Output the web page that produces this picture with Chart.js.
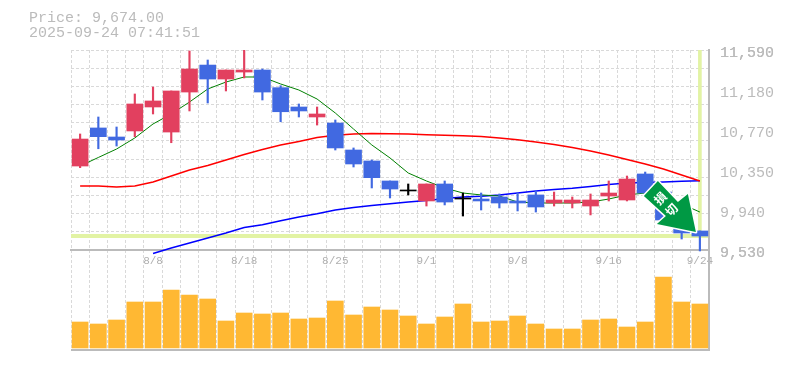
<!DOCTYPE html>
<html>
<head>
<meta charset="utf-8">
<script src="https://cdn.jsdelivr.net/npm/chart.js@4"></script>
<style>
html, body { margin: 0; background: #fff; }
#wrap { position: relative; width: 785px; height: 370px; }
#info { position: absolute; left: 29px; top: 11px; font: 15px/15px "Liberation Mono", monospace; color: #bbb; white-space: pre; }
</style>
</head>
<body>
<div id="wrap">
    <div id="info">Price: 9,674.00
2025-09-24 07:41:51</div>
    <canvas id="stockChart" width="785" height="370"></canvas>
</div>
<script>
const categories = ['8/4','8/5','8/6','8/7','8/8','8/12','8/13','8/14','8/15','8/18','8/19','8/20','8/21','8/22','8/25','8/26','8/27','8/28','8/29','9/1','9/2','9/3','9/4','9/5','9/8','9/9','9/10','9/11','9/12','9/16','9/17','9/18','9/19','9/22','9/24'];
const dateTicks = ['8/8','8/18','8/25','9/1','9/8','9/16','9/24'];

const openPrices = [10395,10787,10694,10756,11003,10745,11157,11435,11291,11363,11384,11202,11003,10900,10838,10560,10447,10241,10138,10035,10210,10055,10055,10076,10035,10097,10014,10014,9983,10086,10045,10313,10127,9818,9726];
const closePrices = [10673,10697,10663,11034,11065,11168,11394,11291,11384,11384,11157,10954,10962,10931,10581,10416,10275,10158,10138,10210,10024,10055,10035,10014,10014,9973,10045,10045,10045,10117,10261,10117,9839,9705,9674];
const highPrices = [10725,10900,10797,11137,11209,11168,11580,11487,11384,11590,11394,11222,11034,11003,10869,10581,10457,10241,10210,10210,10241,10117,10117,10107,10117,10138,10127,10076,10107,10241,10292,10333,10127,9818,9726];
const lowPrices = [10378,10573,10601,10697,10931,10635,10962,11044,11168,11302,11075,10851,10900,10817,10560,10385,10169,10066,10097,9983,9994,9880,9942,9963,9932,9921,9983,9963,9891,10035,10035,10117,9818,9643,9520];

const shortAverage = [10395,10483,10570,10684,10828,10931,11054,11188,11260,11312,11312,11240,11178,11085,10941,10776,10612,10478,10323,10241,10169,10117,10097,10086,10024,10014,10014,10014,10024,10055,10097,10117,10076,10004,9921];
const midAverage = [10189,10189,10179,10189,10230,10292,10354,10400,10457,10514,10565,10612,10648,10689,10711,10725,10730,10728,10725,10718,10711,10707,10699,10684,10666,10642,10617,10586,10550,10509,10462,10416,10364,10303,10241];
const longAverage = [null,null,null,null,9494,9551,9602,9654,9705,9762,9791,9832,9870,9903,9942,9968,9988,10007,10024,10040,10061,10076,10084,10097,10117,10138,10153,10165,10184,10205,10220,10225,10230,10238,10244];

const volumes = [26,24,28,46,46,58,53,49,27,35,34,35,29,30,47,33,41,38,32,24,31,44,26,27,32,24,19,19,28,29,21,26,71,46,44];

const yTickValues = [9530,9942,10354,10766,11178,11590];
const yTickLabels = ['9,530','9,940','10,350','10,770','11,180','11,590'];
const lastPrice = 9674;

const GRAY = '#bbb';
const GRID = '#d9d9d9';
const MARK = '#e2f3a4';
const UP = '#e2405f';
const DOWN = '#4169e1';
const FONT = '"Liberation Mono", monospace';

const priceTop = 11590;
const priceBottom = 8500;
const gridStep = (11590 - 9530) / 11;

let candleColor = (i) => {
    if (closePrices[i] > openPrices[i]) return UP;
    if (closePrices[i] < openPrices[i]) return DOWN;
    return '#000';
};
let candleColors = categories.map((c, i) => candleColor(i));

// price axis ticks: labels, dashed grid, current price and the bottom edge
let gridTicks = [];
for (let i = 0; i <= 11; i++) {
    gridTicks.push(9530 + gridStep * i);
}
let isGridTick = (v) => gridTicks.some(g => Math.abs(g - v) < 0.01);

let arrowPlugin = {
    id: 'stopArrow',
    afterDatasetsDraw(chart) {
        let ctx = chart.ctx;
        let px = chart.scales.x.getPixelForValue(categories.length - 1);
        let py = chart.scales.price.getPixelForValue(lastPrice);
        ctx.save();
        ctx.translate(px, py);
        // arrow outline relative to the last candle
        ctx.beginPath();
        ctx.moveTo(-42, -55);
        ctx.lineTo(-22, -34);
        ctx.lineTo(-12, -42);
        ctx.lineTo(-4, -4);
        ctx.lineTo(-43, -12);
        ctx.lineTo(-34, -20);
        ctx.lineTo(-56, -40);
        ctx.closePath();
        ctx.lineJoin = 'round';
        ctx.lineWidth = 3;
        ctx.strokeStyle = '#fff';
        ctx.stroke();
        ctx.fillStyle = '#009944';
        ctx.fill();
        ctx.translate(-34, -32);
        ctx.rotate(-Math.PI / 4);
        ctx.fillStyle = '#fff';
        ctx.font = 'bold 12px "Noto Sans CJK JP"';
        ctx.textAlign = 'center';
        ctx.textBaseline = 'middle';
        ctx.fillText('損', 0, -8);
        ctx.fillText('切', 0, 8);
        ctx.restore();
    }
};

let ctx1 = document.getElementById('stockChart').getContext('2d');
let stockChart = new Chart(ctx1, {
    data: {
        labels: categories,
        datasets: [
            {
                type: 'bar',
                yAxisID: 'price',
                data: categories.map((c, i) => [openPrices[i], closePrices[i]]),
                backgroundColor: candleColors,
                barThickness: 16,
                grouped: false,
                minBarLength: 1,
                order: 1
            },
            {
                type: 'bar',
                yAxisID: 'price',
                data: categories.map((c, i) => [lowPrices[i], highPrices[i]]),
                backgroundColor: candleColors,
                barThickness: 1.5,
                grouped: false,
                order: 2
            },
            {
                type: 'line',
                yAxisID: 'price',
                data: shortAverage,
                borderColor: '#008000',
                borderWidth: 1,
                pointRadius: 0,
                order: 3
            },
            {
                type: 'line',
                yAxisID: 'price',
                data: midAverage,
                borderColor: '#ff0000',
                borderWidth: 1.5,
                pointRadius: 0,
                order: 4
            },
            {
                type: 'line',
                yAxisID: 'price',
                data: longAverage,
                borderColor: '#0000ff',
                borderWidth: 1.5,
                pointRadius: 0,
                order: 5
            },
            {
                type: 'bar',
                yAxisID: 'price',
                data: categories.map((c, i) => i == categories.length - 1 ? [lastPrice, priceTop] : null),
                backgroundColor: MARK,
                barThickness: 3,
                grouped: false,
                order: 6
            },
            {
                type: 'bar',
                yAxisID: 'vol',
                data: volumes,
                backgroundColor: '#ffb833',
                barThickness: 16,
                grouped: false,
                order: 7
            }
        ]
    },
    options: {
        responsive: false,
        animation: false,
        layout: { padding: { left: 71, top: 50, right: 0, bottom: 20 } },
        plugins: {
            legend: { display: false },
            tooltip: { enabled: false }
        },
        scales: {
            x: {
                type: 'category',
                position: { price: 9530 },
                offset: true,
                grid: { color: GRID, drawTicks: false, offset: true },
                border: { color: GRAY, width: 2, dash: [3, 2] },
                ticks: {
                    autoSkip: false,
                    maxRotation: 0,
                    padding: 4,
                    color: '#b0b0b0',
                    font: { family: FONT, size: 11 },
                    callback: function (value) {
                        let label = this.getLabelForValue(value);
                        return dateTicks.includes(label) ? label : '';
                    }
                }
            },
            price: {
                type: 'linear',
                position: 'right',
                min: priceBottom,
                max: priceTop,
                afterBuildTicks: (scale) => {
                    let values = [priceBottom, lastPrice].concat(gridTicks, yTickValues);
                    values.sort((a, b) => a - b);
                    scale.ticks = values.map(v => ({ value: v }));
                },
                afterFit: (scale) => { scale.width = 76; },
                grid: {
                    drawTicks: false,
                    color: (c) => {
                        let v = c.tick ? c.tick.value : 0;
                        if (v == priceBottom) return GRAY;
                        if (v == lastPrice) return MARK;
                        return isGridTick(v) ? GRID : 'rgba(0,0,0,0)';
                    },
                    lineWidth: (c) => {
                        let v = c.tick ? c.tick.value : 0;
                        if (v == priceBottom) return 2;
                        return v == lastPrice ? 4 : 1;
                    }
                },
                border: {
                    color: GRAY,
                    width: 2,
                    dash: (c) => {
                        let v = c.tick ? c.tick.value : priceBottom;
                        return (v == priceBottom || v == lastPrice) ? [] : [3, 2];
                    }
                },
                ticks: {
                    autoSkip: false,
                    padding: 11,
                    labelOffset: 3,
                    color: GRAY,
                    font: { family: FONT, size: 15 },
                    callback: (value) => {
                        let i = yTickValues.indexOf(value);
                        return i >= 0 ? yTickLabels[i] : '';
                    }
                }
            },
            vol: {
                type: 'linear',
                display: false,
                min: -2,
                max: 298
            }
        }
    },
    plugins: [arrowPlugin]
});
</script>
</body>
</html>
